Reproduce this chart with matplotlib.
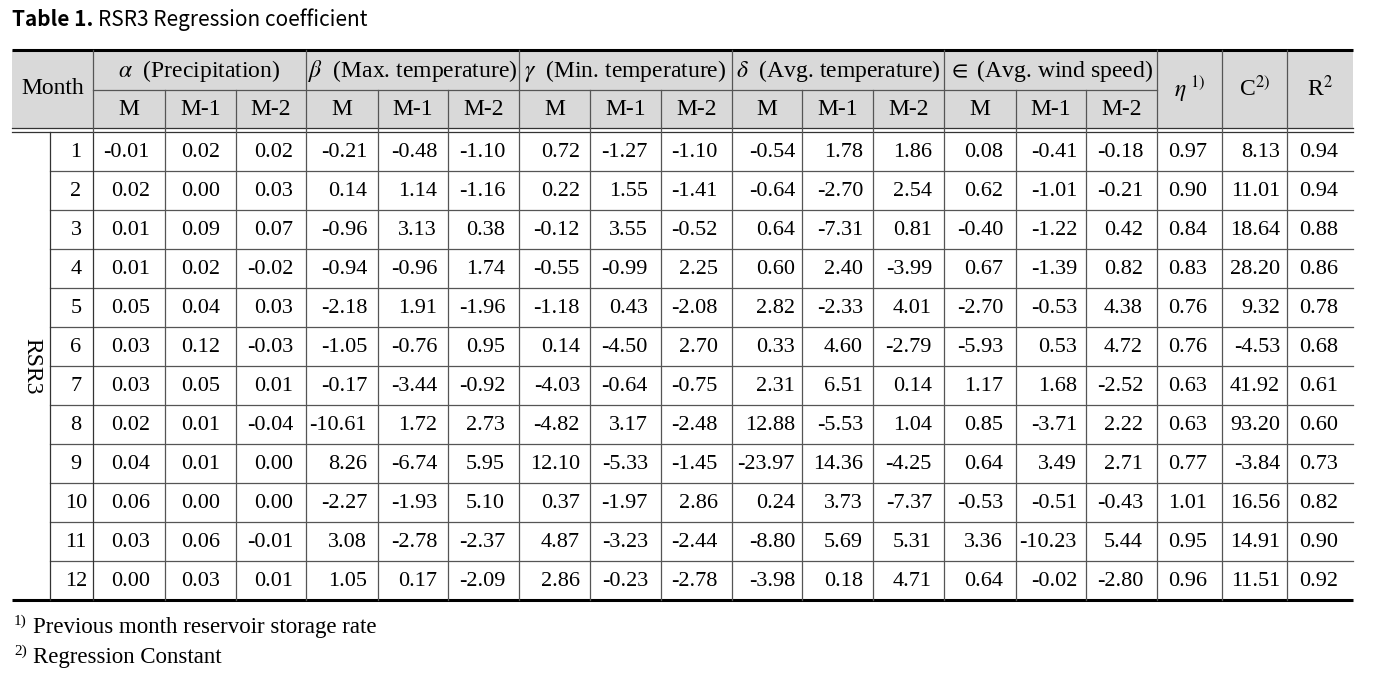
import matplotlib
matplotlib.use("Agg")
import matplotlib.pyplot as plt

months = [1, 2, 3, 4, 5, 6, 7, 8, 9, 10, 11, 12]

alpha_m = [-0.01, 0.02, 0.01, 0.01, 0.05, 0.03, 0.03, 0.02, 0.04, 0.06, 0.03, 0.00]
alpha_m1 = [0.02, 0.00, 0.09, 0.02, 0.04, 0.12, 0.05, 0.01, 0.01, 0.00, 0.06, 0.03]
alpha_m2 = [0.02, 0.03, 0.07, -0.02, 0.03, -0.03, 0.01, -0.04, 0.00, 0.00, -0.01, 0.01]

beta_m = [-0.21, 0.14, -0.96, -0.94, -2.18, -1.05, -0.17, -10.61, 8.26, -2.27, 3.08, 1.05]
beta_m1 = [-0.48, 1.14, 3.13, -0.96, 1.91, -0.76, -3.44, 1.72, -6.74, -1.93, -2.78, 0.17]
beta_m2 = [-1.10, -1.16, 0.38, 1.74, -1.96, 0.95, -0.92, 2.73, 5.95, 5.10, -2.37, -2.09]

gamma_m = [0.72, 0.22, -0.12, -0.55, -1.18, 0.14, -4.03, -4.82, 12.10, 0.37, 4.87, 2.86]
gamma_m1 = [-1.27, 1.55, 3.55, -0.99, 0.43, -4.50, -0.64, 3.17, -5.33, -1.97, -3.23, -0.23]
gamma_m2 = [-1.10, -1.41, -0.52, 2.25, -2.08, 2.70, -0.75, -2.48, -1.45, 2.86, -2.44, -2.78]

delta_m = [-0.54, -0.64, 0.64, 0.60, 2.82, 0.33, 2.31, 12.88, -23.97, 0.24, -8.80, -3.98]
delta_m1 = [1.78, -2.70, -7.31, 2.40, -2.33, 4.60, 6.51, -5.53, 14.36, 3.73, 5.69, 0.18]
delta_m2 = [1.86, 2.54, 0.81, -3.99, 4.01, -2.79, 0.14, 1.04, -4.25, -7.37, 5.31, 4.71]

eps_m = [0.08, 0.62, -0.40, 0.67, -2.70, -5.93, 1.17, 0.85, 0.64, -0.53, 3.36, 0.64]
eps_m1 = [-0.41, -1.01, -1.22, -1.39, -0.53, 0.53, 1.68, -3.71, 3.49, -0.51, -10.23, -0.02]
eps_m2 = [-0.18, -0.21, 0.42, 0.82, 4.38, 4.72, -2.52, 2.22, 2.71, -0.43, 5.44, -2.80]

eta = [0.97, 0.90, 0.84, 0.83, 0.76, 0.76, 0.63, 0.63, 0.77, 1.01, 0.95, 0.96]
const_c = [8.13, 11.01, 18.64, 28.20, 9.32, -4.53, 41.92, 93.20, -3.84, 16.56, 14.91, 11.51]
r2 = [0.94, 0.94, 0.88, 0.86, 0.78, 0.68, 0.61, 0.60, 0.73, 0.82, 0.90, 0.92]

group_labels = [r"$\alpha$  (Precipitation)", r"$\beta$  (Max. temperature)",
                r"$\gamma$  (Min. temperature)", r"$\delta$  (Avg. temperature)",
                r"$\in$ (Avg. wind speed)"]
sub_labels = ["M", "M-1", "M-2"]
single_labels = [r"$\eta^{\ 1)}$", r"C$^{2)}$", r"R$^{2}$"]
footnotes = ["Previous month reservoir storage rate", "Regression Constant"]

columns = [alpha_m, alpha_m1, alpha_m2, beta_m, beta_m1, beta_m2,
           gamma_m, gamma_m1, gamma_m2, delta_m, delta_m1, delta_m2,
           eps_m, eps_m1, eps_m2, eta, const_c, r2]

# === layout (pixels) ===
plt.rcParams['font.family'] = ['Liberation Serif', 'DejaVu Serif']
plt.rcParams['mathtext.fontset'] = 'stix'

W, H = 1373, 675
fig = plt.figure(figsize=(W / 100, H / 100), dpi=100)
ax = fig.add_axes([0, 0, 1, 1])
ax.set_xlim(0, W)
ax.set_ylim(H, 0)
ax.axis('off')

x_left, x_rsr, x_month, x_right = 12, 50, 93, 1353
# column borders after the Month column
col_edges = [93, 165, 236, 306, 378, 448, 519, 590, 661, 732, 802, 873,
             944, 1016, 1086, 1157, 1222, 1287, 1353]
# right padding of the numbers in each column
pads = [15, 16, 13, 11, 11, 14, 10, 13, 14, 7, 10, 12, 13, 9, 14, 15, 7, 15]
y_top, y_mid, y_hb1, y_hb2, y_bot = 50, 90, 127.5, 131.5, 600
row_h = (y_bot - y_hb2) / len(months)

line_c = '#555555'
lw = 0.9
fs_head = 17
fs = 16

# header background
ax.fill_between([x_left, x_right], y_top, y_hb1, color='#d9d9d9', lw=0, zorder=0)

# horizontal rules
ax.plot([x_left, x_right], [y_top, y_top], color='black', lw=2.2, solid_capstyle='butt')
ax.plot([x_left, x_right], [y_bot, y_bot], color='black', lw=2.2, solid_capstyle='butt')
ax.plot([x_month, col_edges[15]], [y_mid, y_mid], color=line_c, lw=lw)
ax.plot([x_left, x_right], [y_hb1, y_hb1], color='#333333', lw=lw)
ax.plot([x_left, x_right], [y_hb2, y_hb2], color='#333333', lw=lw)
for i in range(1, len(months)):
    y = y_hb2 + i * row_h
    ax.plot([x_rsr, x_right], [y, y], color=line_c, lw=lw)

# vertical rules
ax.plot([x_rsr, x_rsr], [y_hb2, y_bot], color='#333333', lw=lw)
ax.plot([x_month, x_month], [y_hb2, y_bot], color='#333333', lw=lw)
ax.plot([x_month, x_month], [y_top, y_hb2], color=line_c, lw=lw)
for k, xe in enumerate(col_edges[1:-1], start=1):
    if k % 3 == 0 or k >= 15:
        ax.plot([xe, xe], [y_top, y_bot], color=line_c, lw=lw)
    else:
        ax.plot([xe, xe], [y_mid, y_bot], color=line_c, lw=lw)

# header text
ax.text((x_left + x_month) / 2, (y_top + y_hb1) / 2, "Month", ha='center', va='center', fontsize=fs_head)
for g, lab in enumerate(group_labels):
    xc = (col_edges[3 * g] + col_edges[3 * g + 3]) / 2
    ax.text(xc, (y_top + y_mid) / 2 + 1, lab, ha='center', va='center', fontsize=fs_head)
    for s, sl in enumerate(sub_labels):
        xs = (col_edges[3 * g + s] + col_edges[3 * g + s + 1]) / 2
        ax.text(xs, (y_mid + y_hb1) / 2 + 1, sl, ha='center', va='center', fontsize=fs_head)
for j, lab in enumerate(single_labels):
    xc = (col_edges[15 + j] + col_edges[16 + j]) / 2
    ax.text(xc, (y_top + y_hb1) / 2, lab, ha='center', va='center', fontsize=fs_head)

# RSR3 label
ax.text((x_left + x_rsr) / 2 + 1, (y_hb2 + y_bot) / 2, "RSR3", rotation=-90,
        ha='center', va='center', fontsize=fs_head)

# data cells
for i, m in enumerate(months):
    yc = y_hb2 + (i + 0.5) * row_h + 1
    ax.text(76, yc, str(m), ha='center', va='center', fontsize=fs)
    for c, col in enumerate(columns):
        ax.text(col_edges[c + 1] - pads[c], yc, f"{col[i]:.2f}",
                ha='right', va='center', fontsize=fs)

# footnotes
for n, note in enumerate(footnotes):
    yf = 627 + n * 30
    ax.text(14, yf - 6, f"{n + 1})", ha='left', va='center', fontsize=11)
    ax.text(33, yf, note, ha='left', va='center', fontsize=16.5)

# title: bold part + regular part
t1 = ax.text(12, 20, "Table 1.", ha='left', va='center', fontsize=15,
             fontweight='bold', family=['Noto Sans CJK KR', 'DejaVu Sans'])
fig.canvas.draw()
bb = t1.get_window_extent(fig.canvas.get_renderer())
ax.text(12 + bb.width + 5, 20, "RSR3 Regression coefficient", ha='left', va='center',
        fontsize=15, family=['Noto Sans CJK KR', 'DejaVu Sans'])

fig.savefig("out.png", dpi=100)
